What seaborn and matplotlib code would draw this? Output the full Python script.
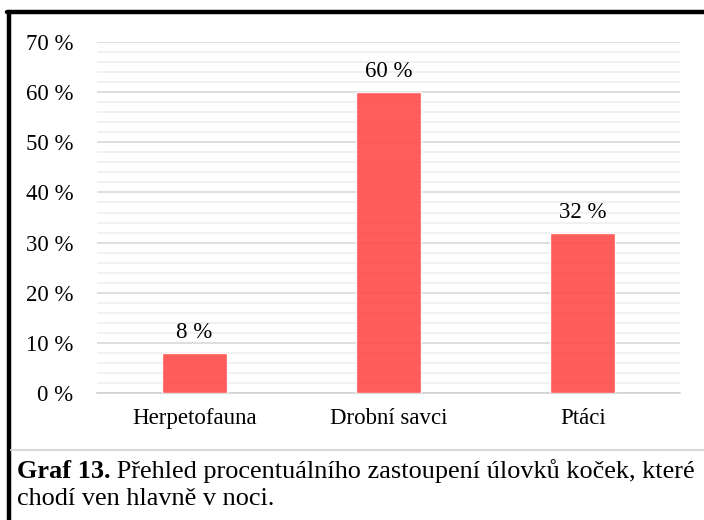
import matplotlib.pyplot as plt
import matplotlib.lines as mlines
import numpy as np
import pandas as pd
import seaborn as sns
from matplotlib.ticker import MultipleLocator, FuncFormatter

categories = ["Herpetofauna", "Drobní savci", "Ptáci"]
values = [8, 60, 32]
caption_bold = "Graf 13."
caption_rest = " Přehled procentuálního zastoupení úlovků koček, které"
caption_line2 = "chodí ven hlavně v noci."

df = pd.DataFrame({"kategorie": categories, "podil": values})

sns.set_style("white")
plt.rcParams["font.family"] = ["Liberation Serif", "DejaVu Serif"]
plt.rcParams["text.color"] = "black"
plt.rcParams["xtick.color"] = "black"
plt.rcParams["ytick.color"] = "black"

fig = plt.figure(figsize=(7.04, 5.2), dpi=100)
ax = fig.add_axes([0.1378, 0.2442, 0.8282, 0.675])

sns.barplot(data=df, x="kategorie", y="podil", color="#FF4F4F", saturation=1,
            width=0.335, alpha=0.93, ax=ax, zorder=3)

ax.set_ylim(0, 70)
ax.set_xlim(-0.5, len(categories) - 0.5)
ax.yaxis.set_major_locator(MultipleLocator(10))
ax.yaxis.set_minor_locator(MultipleLocator(2))
ax.yaxis.set_major_formatter(FuncFormatter(lambda v, p: f"{v:.0f} %"))
ax.grid(axis="y", which="major", color="#d6d6d6", linewidth=1.1, zorder=1)
ax.grid(axis="y", which="minor", color="#eeeeee", linewidth=1.1, zorder=1)
ax.set_axisbelow(True)

for side in ["top", "right", "left"]:
    ax.spines[side].set_visible(False)
ax.spines["bottom"].set_color("#d0d0d0")
ax.spines["bottom"].set_linewidth(1.1)

# category boundary ticks
ax.set_xticks(np.arange(len(categories)))
ax.set_xticklabels(categories, fontsize=16.5)
ax.set_xticks(np.arange(-0.5, len(categories)), minor=True)
ax.tick_params(axis="x", which="major", length=0, pad=11, labelcolor="black")
ax.tick_params(axis="x", which="minor", length=6, color="#d0d0d0", width=1.1)
ax.tick_params(axis="y", which="both", length=0, labelsize=16.5, pad=17,
               labelcolor="black")
ax.set_xlabel("")
ax.set_ylabel("")

for i, v in enumerate(values):
    ax.text(i, v + 2.0, f"{v} %", ha="center", va="bottom", fontsize=16.5,
            color="black")

# frame and caption
fig.add_artist(mlines.Line2D([0.0128, 0.0128], [0, 0.976], color="black",
                             linewidth=3.2, transform=fig.transFigure))
fig.add_artist(mlines.Line2D([0.0105, 1.0], [0.9763, 0.9763], color="black",
                             linewidth=3.2, transform=fig.transFigure))
fig.add_artist(mlines.Line2D([0.016, 1.0], [0.135, 0.135], color="#d9d9d9",
                             linewidth=1.5, transform=fig.transFigure))

t = fig.text(0.024, 0.094, caption_bold, fontsize=18.9, fontweight="bold",
             va="center", ha="left", color="black")
fig.canvas.draw()
bb = t.get_window_extent()
x1 = bb.x1 / fig.bbox.width
fig.text(x1, 0.094, caption_rest, fontsize=18.9, va="center", ha="left",
         color="black")
fig.text(0.024, 0.041, caption_line2, fontsize=18.9, va="center", ha="left",
         color="black")

fig.savefig("out.png", dpi=100)
